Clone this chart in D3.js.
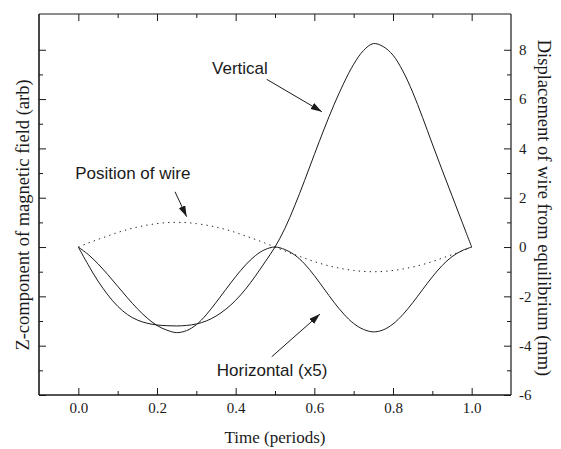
<!DOCTYPE html>
<html><head><meta charset="utf-8">
<script src="https://cdn.jsdelivr.net/npm/d3@7"></script>
<style>
html,body{margin:0;padding:0;background:#fff;}
svg{display:block;}
</style></head>
<body>
<script>
// ---- data ----
const time = [0,0.025,0.05,0.075,0.1,0.125,0.15,0.175,0.2,0.225,0.25,0.275,0.3,0.325,0.35,0.375,0.4,0.425,0.45,0.475,0.5,
              0.525,0.55,0.575,0.6,0.625,0.65,0.675,0.7,0.725,0.75,0.775,0.8,0.825,0.85,0.875,0.9,0.925,0.95,0.975,1.0];
const vertical = [0,-0.72,-1.38,-1.94,-2.40,-2.74,-2.96,-3.09,-3.16,-3.19,-3.2,-3.18,-3.12,-3.0,-2.8,-2.52,-2.16,-1.71,-1.18,-0.6,0,
                  0.75,1.67,2.69,3.75,4.79,5.77,6.65,7.41,7.97,8.25,8.13,7.78,7.14,6.28,5.26,4.18,3.12,2.08,1.04,0];
const horizontal = [0,-0.3,-0.68,-1.12,-1.59,-2.06,-2.5,-2.88,-3.18,-3.37,-3.47,-3.39,-3.15,-2.75,-2.25,-1.72,-1.2,-0.73,-0.35,-0.1,0,
                    -0.1,-0.32,-0.68,-1.16,-1.7,-2.24,-2.72,-3.1,-3.34,-3.44,-3.36,-3.12,-2.74,-2.26,-1.73,-1.21,-0.75,-0.39,-0.15,0];
const wire = [0,0.16,0.31,0.45,0.59,0.71,0.81,0.89,0.95,0.99,1.0,0.99,0.95,0.89,0.81,0.71,0.59,0.45,0.31,0.16,0,
              -0.16,-0.31,-0.45,-0.59,-0.71,-0.81,-0.89,-0.95,-0.99,-1.0,-0.99,-0.95,-0.89,-0.81,-0.71,-0.59,-0.45,-0.31,-0.16,0];
const xTicks = [0,0.2,0.4,0.6,0.8,1.0];
const xMinor = [0.1,0.3,0.5,0.7,0.9];
const yTicks = [-6,-4,-2,0,2,4,6,8];
const yMinor = [-5,-3,-1,1,3,5,7];
const xTitle = "Time (periods)";
const yLeftTitle = "Z-component of magnetic field (arb)";
const yRightTitle = "Displacement of wire from equilibrium (mm)";
const notes = [
  {text:"Vertical", tx:0.34, ty:7.02, from:[0.479,6.80], to:[0.619,5.49]},
  {text:"Position of wire", tx:-0.008, ty:2.74, from:[0.2458,2.24], to:[0.2755,1.23]},
  {text:"Horizontal (x5)", tx:0.352, ty:-5.23, from:[0.4916,-4.45], to:[0.6144,-2.72]}
];

// ---- layout ----
const W=561, H=449;
const m={top:14,right:50,bottom:54,left:39};
const svg=d3.select("body").append("svg").attr("width",W).attr("height",H);
const x=d3.scaleLinear().domain([-0.1,1.1]).range([m.left,W-m.right]);
const y=d3.scaleLinear().domain([-6,9.45]).range([H-m.bottom,m.top]);
const ink="#1a1a1a";
const serif="'Liberation Serif','Times New Roman',serif";
const sans="'Liberation Sans',Arial,sans-serif";

function styleAxis(g){
  g.attr("font-family",serif).attr("font-size",15);
  g.selectAll("path.domain").remove();
  g.selectAll("line").attr("stroke",ink).attr("stroke-width",1);
  g.selectAll("text").attr("fill",ink).style("font-family",serif).style("font-size","15px");
}
const B=H-m.bottom, T=m.top, L=m.left, R=W-m.right;
svg.append("g").attr("transform",`translate(0,${B})`)
  .call(d3.axisBottom(x).tickValues(xTicks).tickFormat(d3.format(".1f")).tickSizeInner(-7).tickSizeOuter(0).tickPadding(7)).call(styleAxis);
svg.append("g").attr("transform",`translate(0,${B})`)
  .call(d3.axisBottom(x).tickValues(xMinor).tickFormat("").tickSizeInner(-4).tickSizeOuter(0)).call(styleAxis);
svg.append("g").attr("transform",`translate(0,${T})`)
  .call(d3.axisTop(x).tickValues(xTicks).tickFormat("").tickSizeInner(-7).tickSizeOuter(0)).call(styleAxis);
svg.append("g").attr("transform",`translate(0,${T})`)
  .call(d3.axisTop(x).tickValues(xMinor).tickFormat("").tickSizeInner(-4).tickSizeOuter(0)).call(styleAxis);
svg.append("g").attr("transform",`translate(${L},0)`)
  .call(d3.axisLeft(y).tickValues(yTicks).tickFormat("").tickSizeInner(-7).tickSizeOuter(0)).call(styleAxis);
svg.append("g").attr("transform",`translate(${L},0)`)
  .call(d3.axisLeft(y).tickValues(yMinor).tickFormat("").tickSizeInner(-4).tickSizeOuter(0)).call(styleAxis);
svg.append("g").attr("transform",`translate(${R},0)`)
  .call(d3.axisRight(y).tickValues(yTicks).tickFormat(d=>String(d)).tickSizeInner(-7).tickSizeOuter(0).tickPadding(8)).call(styleAxis);
svg.append("g").attr("transform",`translate(${R},0)`)
  .call(d3.axisRight(y).tickValues(yMinor).tickFormat("").tickSizeInner(-4).tickSizeOuter(0)).call(styleAxis);

// frame
svg.append("line").attr("x1",L).attr("x2",R).attr("y1",T).attr("y2",T).attr("stroke",ink).attr("stroke-width",1);
svg.append("line").attr("x1",R).attr("x2",R).attr("y1",T).attr("y2",B).attr("stroke",ink).attr("stroke-width",1.2);
svg.append("line").attr("x1",L).attr("x2",L).attr("y1",T).attr("y2",B).attr("stroke",ink).attr("stroke-width",1.6);
svg.append("line").attr("x1",L).attr("x2",R).attr("y1",B).attr("y2",B).attr("stroke",ink).attr("stroke-width",1.6);

// series
const line=d3.line().x(d=>x(d[0])).y(d=>y(d[1])).curve(d3.curveCatmullRom.alpha(0.5));
const series=[
  {v:vertical, dash:null},
  {v:horizontal, dash:null},
  {v:wire, dash:"1.3,4.2"}
];
series.forEach(s=>{
  svg.append("path").datum(time.map((t,i)=>[t,s.v[i]]))
    .attr("d",line).attr("fill","none").attr("stroke",ink).attr("stroke-width",1)
    .attr("stroke-dasharray",s.dash);
});

// arrow marker
svg.append("defs").append("marker").attr("id","ah").attr("markerUnits","userSpaceOnUse")
  .attr("markerWidth",12).attr("markerHeight",8).attr("refX",11).attr("refY",3.5).attr("orient","auto")
  .append("path").attr("d","M0,0 L11,3.5 L0,7 Z").attr("fill",ink);

notes.forEach(n=>{
  svg.append("text").attr("x",x(n.tx)).attr("y",y(n.ty)).text(n.text)
    .attr("fill",ink).style("font-family",sans).style("font-size","17px");
  svg.append("line").attr("x1",x(n.from[0])).attr("y1",y(n.from[1]))
    .attr("x2",x(n.to[0])).attr("y2",y(n.to[1]))
    .attr("stroke",ink).attr("stroke-width",1).attr("marker-end","url(#ah)");
});

// titles
svg.append("text").attr("x",(L+R)/2).attr("y",443).attr("text-anchor","middle").text(xTitle)
  .attr("fill",ink).style("font-family",serif).style("font-size","17px");
svg.append("text").attr("transform",`translate(29,215) rotate(-90)`).attr("text-anchor","middle").text(yLeftTitle)
  .attr("fill",ink).style("font-family",serif).style("font-size","18.5px");
svg.append("text").attr("transform",`translate(538,208) rotate(90)`).attr("text-anchor","middle").text(yRightTitle)
  .attr("fill",ink).style("font-family",serif).style("font-size","18.5px");
</script>
</body></html>
